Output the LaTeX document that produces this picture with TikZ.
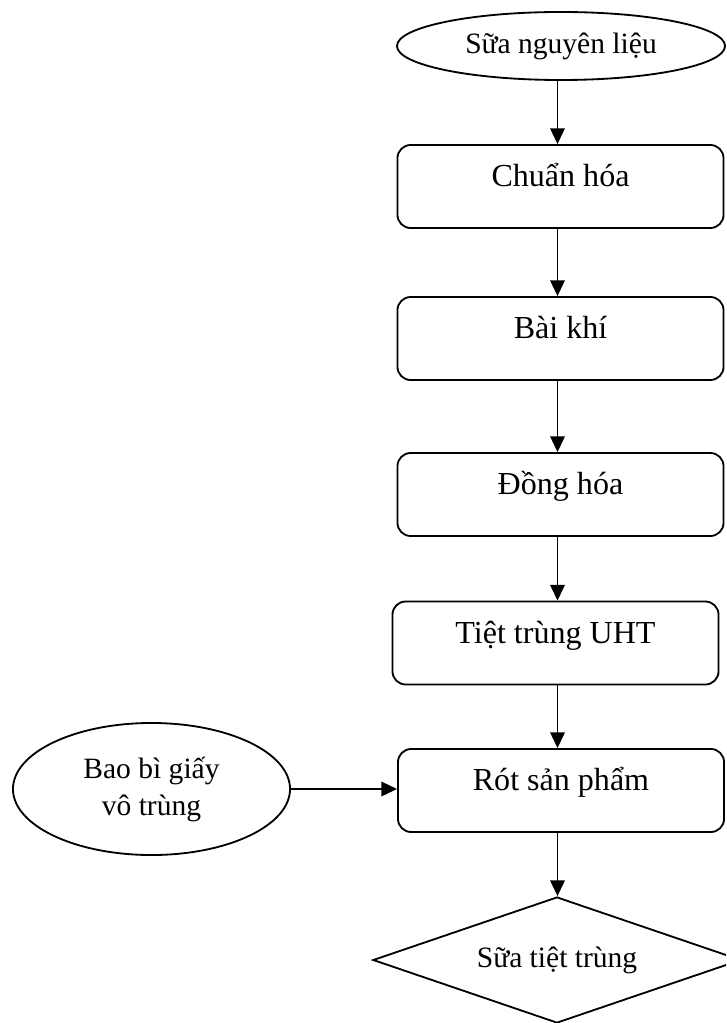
\documentclass[tikz,border=0pt]{standalone}
\usepackage{fontspec}
\setmainfont{Liberation Serif}
\usetikzlibrary{shapes.geometric, arrows.meta}

\begin{document}
\begin{tikzpicture}[x=0.025cm, y=-0.025cm, line width=1.3pt,
        stepbox/.style={draw, rounded corners=0.33cm, inner sep=0pt,
            minimum width=\boxwidth, minimum height=\boxheight,
            text height=0pt, text depth=0pt, font=\fontsize{22.8}{27}\selectfont},
        endpoint/.style={draw, ellipse, inner sep=0pt, align=center,
            font=\fontsize{21}{26.3}\selectfont},
        flow/.style={-{Triangle[length=3.9mm, width=3.6mm]}}]
    % Parameters
    \def\boxwidth{8.15cm}
    \def\boxheight{2.075cm}

    \clip (0, 0) rectangle (726, 1023);
    \coordinate (axis) at (557.5, 0);

    % Draw the ends
    \node[endpoint, minimum width=8.2cm, minimum height=1.7cm] (sua) at (561, 46) {Sữa nguyên liệu};
    \node[endpoint, minimum width=6.925cm, minimum height=3.3cm] (baobi) at (151.5, 789) {Bao bì giấy\\vô trùng};
    \node[draw, diamond, aspect=2.92, inner sep=0pt, minimum width=9.2cm, minimum height=3.15cm,
        font=\fontsize{21}{26.3}\selectfont] (sp) at (557, 960) {Sữa tiệt trùng};

    % Draw the steps
    \foreach \name/\xc/\yc/\txt in {chuan/560.5/186.5/Chuẩn hóa, baikhi/560.5/338.5/Bài khí,
            donghoa/560.5/494.5/Đồng hóa, uht/555.5/643/Tiệt trùng UHT, rot/561/790.5/Rót sản phẩm} {
            \node[stepbox] (\name) at (\xc, \yc) {\txt};
        }

    % Add arrows
    \foreach \a/\b in {sua/chuan, chuan/baikhi, baikhi/donghoa, donghoa/uht, uht/rot, rot/sp} {
            \draw[flow] (\a.south -| axis) -- (\b.north -| axis);
        }
    \draw[flow] (baobi.east) -- (baobi.east -| rot.west);
\end{tikzpicture}
\end{document}
